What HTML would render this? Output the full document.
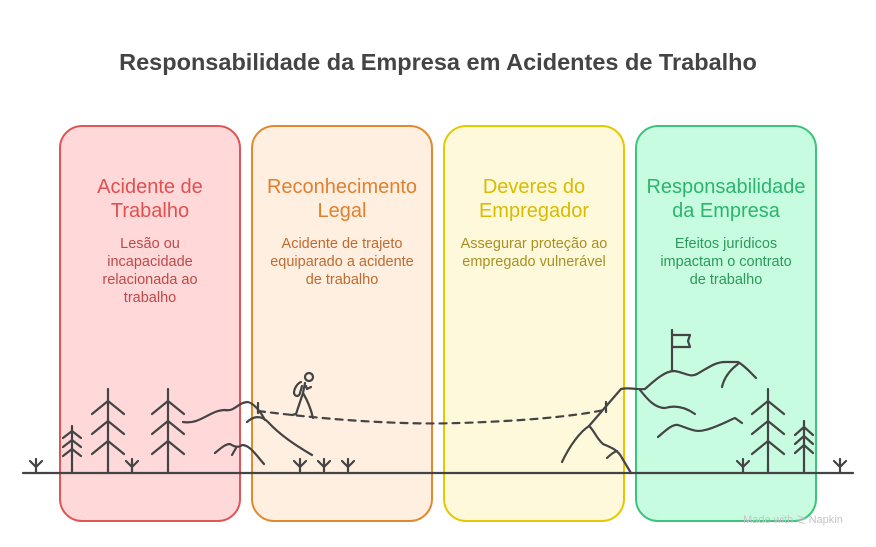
<!DOCTYPE html>
<html><head><meta charset="utf-8"><style>
html,body{margin:0;padding:0;background:#fff;}
svg{display:block;font-family:"Liberation Sans",sans-serif;}
</style></head><body>
<svg width="876" height="547" viewBox="0 0 876 547" xmlns="http://www.w3.org/2000/svg">
<text x="438" y="70" text-anchor="middle" font-size="23.5" font-weight="bold" fill="#444">Responsabilidade da Empresa em Acidentes de Trabalho</text>
<rect x="60" y="126" width="180" height="395" rx="22" fill="#ffd9d9" stroke="#e05555" stroke-width="2"/>
<rect x="252" y="126" width="180" height="395" rx="22" fill="#ffefe0" stroke="#e08a30" stroke-width="2"/>
<rect x="444" y="126" width="180" height="395" rx="22" fill="#fff9db" stroke="#e5c800" stroke-width="2"/>
<rect x="636" y="126" width="180" height="395" rx="22" fill="#c8fce0" stroke="#3cc47c" stroke-width="2"/>
<g font-size="20" text-anchor="middle">
<text x="150" y="193" fill="#e05050">Acidente de</text><text x="150" y="217" fill="#e05050">Trabalho</text>
<text x="342" y="193" fill="#e08030">Reconhecimento</text><text x="342" y="217" fill="#e08030">Legal</text>
<text x="534" y="193" fill="#d9bb00">Deveres do</text><text x="534" y="217" fill="#d9bb00">Empregador</text>
<text x="726" y="193" fill="#2bb56e">Responsabilidade</text><text x="726" y="217" fill="#2bb56e">da Empresa</text>
</g>
<g font-size="14.5" text-anchor="middle">
<g fill="#c04848"><text x="150" y="248">Lesão ou</text><text x="150" y="266">incapacidade</text><text x="150" y="284">relacionada ao</text><text x="150" y="302">trabalho</text></g>
<g fill="#c06a30"><text x="342" y="248">Acidente de trajeto</text><text x="342" y="266">equiparado a acidente</text><text x="342" y="284">de trabalho</text></g>
<g fill="#a89020"><text x="534" y="248">Assegurar proteção ao</text><text x="534" y="266">empregado vulnerável</text></g>
<g fill="#2a9a5a"><text x="726" y="248">Efeitos jurídicos</text><text x="726" y="266">impactam o contrato</text><text x="726" y="284">de trabalho</text></g>
</g>
<g stroke="#444" stroke-width="2.2" fill="none" stroke-linecap="round" stroke-linejoin="round">
<line x1="23" y1="473" x2="853" y2="473"/>
<path d="M36 473V459M30 461L36 467L42 461"/>
<path d="M132 473V459M126 461L132 467L138 461"/>
<path d="M300 473V459M294 461L300 467L306 461"/>
<path d="M324 473V459M318 461L324 467L330 461"/>
<path d="M348 473V459M342 461L348 467L354 461"/>
<path d="M743 473V459M737 461L743 467L749 461"/>
<path d="M840 473V459M834 461L840 467L846 461"/>
<path d="M72 473V426M63 438L72 431L81 438M63 447L72 440L81 447M63 456L72 449L81 456"/>
<path d="M804 473V421M795 435L804 427L813 435M795 444L804 436L813 444M795 453L804 445L813 453"/>
<path d="M108 473V389M92 414L108 401L124 414M92 434L108 421L124 434M92 454L108 441L124 454"/>
<path d="M168 473V389M152 414L168 401L184 414M152 434L168 421L184 434M152 454L168 441L184 454"/>
<path d="M768 473V389M752 414L768 401L784 414M752 434L768 421L784 434M752 454L768 441L784 454"/>
<path d="M183 422C200 425 210 410 225 410C235 412 238 402 248 402C255 404 262 414 265 420"/>
<path d="M247 422C255 415 262 416 268 422C280 435 295 445 312 455"/>
<path d="M215 453C222 447 226 444 230 444C236 448 240 447 242 445C250 445 256 455 264 464"/>
<path d="M232 455L236 448"/>
<path d="M258 411C330 420 400 425 460 423C520 421 570 417 604 410" stroke-dasharray="7 6"/>
<path d="M258 403V413M606 402V412"/>
<circle cx="309" cy="377" r="4"/>
<path d="M305 383L303 393C306 398 310 405 313 418M303 393L296 414L292 415M306 386L307 389L311 387"/>
<path d="M301 382C298 383 294 388 294 393C295 397 299 397 300 393L302 386"/>
<path d="M562 462C570 445 580 432 589 426C594 430 596 438 603 444C612 448 618 450 622 458L631 473"/>
<path d="M607 458C611 454 614 452 617 451"/>
<path d="M589 426L621 389C630 387 636 390 645 389C655 380 665 371 674 371C684 372 690 378 697 374C708 368 715 362 725 362L738 362C745 366 750 372 756 378"/>
<path d="M640 390C648 400 655 408 665 408C675 405 685 407 695 414"/>
<path d="M658 437C665 431 672 424 678 425C688 428 695 433 705 430C715 428 730 420 735 418L742 423"/>
<path d="M722 387C724 378 730 370 738 364"/>
<path d="M672 371V330M672 335H690L688 341L690 347H672"/>
</g>
<text x="793" y="523" font-size="11" fill="#c4c4c4" text-anchor="middle">Made with ≷ Napkin</text>
</svg>
</body></html>
